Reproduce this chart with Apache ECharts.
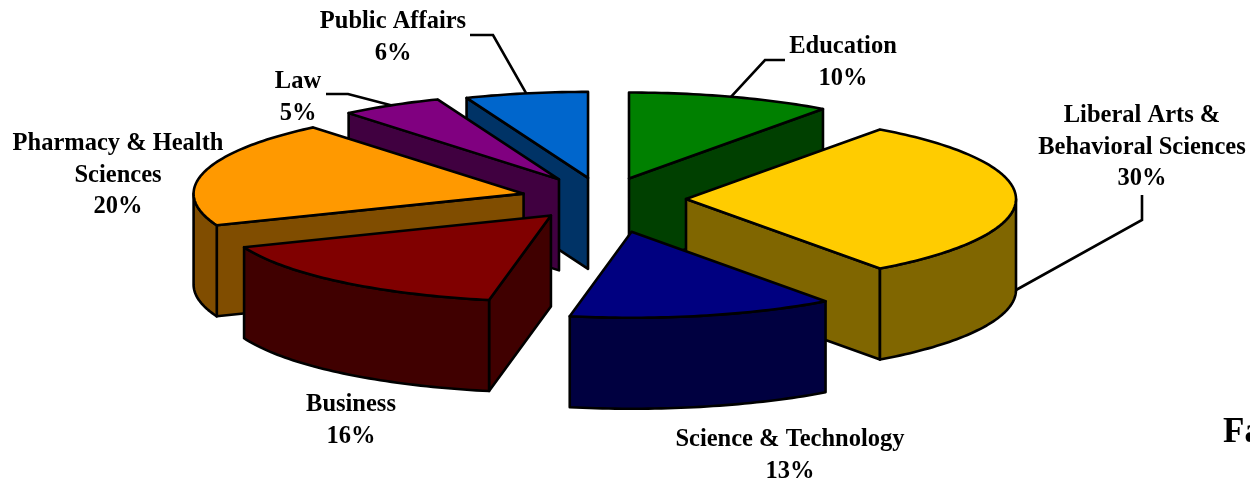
<!DOCTYPE html>
<html>
<head>
<meta charset="utf-8">
<style>
  html, body { margin: 0; padding: 0; background: #fff; }
  #main { width: 1250px; height: 481px; }
</style>
<script src="https://cdn.jsdelivr.net/npm/echarts@6/dist/echarts.min.js"></script>
</head>
<body>
<div id="main"></div>
<script>
// slices, clockwise from 12 o'clock
var categories = ['Education', 'Liberal Arts &\nBehavioral Sciences', 'Science & Technology', 'Business', 'Pharmacy & Health\nSciences', 'Law', 'Public Affairs'];
var shares = [10, 30, 13, 16, 20, 5, 6];

var topColors = ['#008000', '#ffcc00', '#000080', '#800000', '#ff9900', '#800080', '#0066cc'];
var sideColors = ['#004000', '#806600', '#000040', '#400000', '#804d00', '#400040', '#003366'];
var explode = [0.25, 0.25, 0.39, 0.25, 0.25, 0.265, 0.25];

// back to front
var drawOrder = [0, 6, 5, 1, 4, 3, 2];

// label centre, y is the centre of the first text row
var labelPos = [[843, 45], [1142, 114], [790, 438], [351, 403], [118, 142], [298, 80], [393, 20]];

var CX = 603.5, CY = 199, RX = 330, RY = 86, DEPTH = 91;
var LINE = 2.6;
var FONT = '"Liberation Serif", "Times New Roman", serif';
var total = shares.reduce(function (a, b) { return a + b; }, 0);

// start and end angle of each slice, radians clockwise from north
var angles = [];
var sum = 0;
shares.forEach(function (v) {
    var start = sum / total * Math.PI * 2;
    sum += v;
    angles.push([start, sum / total * Math.PI * 2]);
});

function apex(i) {
    var mid = (angles[i][0] + angles[i][1]) / 2;
    return [CX + explode[i] * RX * Math.sin(mid), CY - explode[i] * RY * Math.cos(mid)];
}

function rimPoint(i, a, drop) {
    var c = apex(i);
    return [c[0] + RX * Math.sin(a), c[1] - RY * Math.cos(a) + (drop || 0)];
}

function arcPoints(i, a0, a1, drop) {
    var pts = [];
    var n = Math.max(2, Math.ceil((a1 - a0) / 0.02));
    for (var k = 0; k <= n; k++) {
        pts.push(rimPoint(i, a0 + (a1 - a0) * k / n, drop));
    }
    return pts;
}

function face(points, fill) {
    return {
        type: 'polygon',
        shape: { points: points },
        style: { fill: fill, stroke: '#000', lineWidth: LINE, lineJoin: 'round' }
    };
}

function wall(i, a, fill) {
    var c = apex(i);
    var p = rimPoint(i, a);
    return face([c, p, [p[0], p[1] + DEPTH], [c[0], c[1] + DEPTH]], fill);
}

function renderSlice(params, api) {
    var i = api.value(0);
    var a0 = angles[i][0], a1 = angles[i][1];
    var c = apex(i);
    var children = [];

    // radial walls, only the ones facing the viewer
    if (Math.cos(a0 - Math.PI / 2) < -1e-6) {
        children.push(wall(i, a0, sideColors[i]));
    }
    if (Math.cos(a1 + Math.PI / 2) < -1e-6) {
        children.push(wall(i, a1, sideColors[i]));
    }

    // outer rim, front half of the ellipse
    var r0 = Math.max(a0, Math.PI / 2), r1 = Math.min(a1, Math.PI * 1.5);
    if (r1 > r0) {
        children.push(face(arcPoints(i, r0, r1, 0).concat(arcPoints(i, r0, r1, DEPTH).reverse()), sideColors[i]));
    }

    children.push(face([c].concat(arcPoints(i, a0, a1, 0)), topColors[i]));
    return { type: 'group', children: children };
}

function midAngle(i) {
    return (angles[i][0] + angles[i][1]) / 2;
}

function leader(points) {
    return {
        type: 'polyline',
        z: 5,
        shape: { points: points },
        style: { fill: null, stroke: '#000', lineWidth: LINE }
    };
}

var graphics = [
    leader([rimPoint(0, midAngle(0)), [765, 60], [785, 60]]),
    leader([rimPoint(1, midAngle(1), DEPTH), [1142, 220], [1142, 195]]),
    leader([rimPoint(5, midAngle(5)), [348, 94], [326, 94]]),
    leader([rimPoint(6, midAngle(6)), [493, 35], [470, 35]])
];

categories.forEach(function (name, i) {
    graphics.push({
        type: 'text',
        z: 6,
        x: labelPos[i][0],
        y: labelPos[i][1] - 14,
        style: {
            text: name + '\n' + shares[i] + '%',
            fill: '#000',
            font: 'bold 24.5px ' + FONT,
            lineHeight: 31.5,
            align: 'center',
            verticalAlign: 'top'
        }
    });
});

// caption cut off by the right edge in the original
graphics.push({
    type: 'text',
    z: 6,
    x: 1223,
    y: 433,
    style: { text: 'Fa', fill: '#000', font: 'bold 35px ' + FONT, verticalAlign: 'middle' }
});

var myChart = echarts.init(document.getElementById('main'));

myChart.setOption({
    animation: false,
    backgroundColor: '#fff',
    graphic: graphics,
    series: [{
        type: 'custom',
        coordinateSystem: 'none',
        renderItem: renderSlice,
        encode: { value: 0 },
        data: drawOrder.map(function (i) { return [i, shares[i]]; })
    }]
});
</script>
</body>
</html>
